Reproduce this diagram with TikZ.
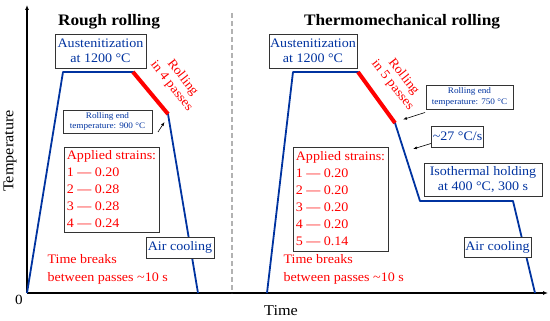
\documentclass[tikz,border=0pt]{standalone}
\usepackage{fontspec}
\setmainfont[FakeStretch=1.08]{Liberation Serif}
\usetikzlibrary{arrows.meta}
\definecolor{pblue}{RGB}{0,51,160}
\definecolor{pred}{RGB}{255,0,0}
\begin{document}
\begin{tikzpicture}[x=1pt,y=-1pt,
  box/.style={draw=black!80, line width=0.8pt, fill=white, inner sep=1pt, align=center, text=pblue, font=\fontsize{13}{15}\selectfont},
  smallbox/.style={box, font=\fontsize{8.5}{10.5}\selectfont},
  strainbox/.style={draw=black!80, line width=0.8pt, fill=white, inner sep=1pt, align=left, text=pred, font=\fontsize{13}{17}\selectfont},
  redtxt/.style={text=pred, align=left, font=\fontsize{13}{18}\selectfont},
  title/.style={font=\fontsize{16}{17}\selectfont\bfseries},
  profile/.style={draw=pblue, line width=1.8pt, line join=round},
  rolled/.style={draw=pred, line width=4pt},
  axis/.style={draw=black, line width=1.1pt, -{Latex[length=5pt,width=4pt]}},
  pointer/.style={draw=black, line width=0.6pt, -{Latex[length=4pt,width=3pt]}},
  rolltxt/.style={text=pred, font=\fontsize{13}{14}\selectfont, rotate=-52, align=center, inner sep=0pt}
]
\useasboundingbox (0,0) rectangle (550,321);
% axes
\coordinate (o) at (27,293);
\coordinate (ytop) at (27,5);
\coordinate (xend) at (548,293);
\draw[axis] (o) -- (ytop);
\draw[axis] (o) -- (xend);
\node (zero) at (19,300) {\fontsize{14}{15}\selectfont 0};
\node[rotate=90] (templbl) at (10,151) {\fontsize{15}{16}\selectfont Temperature};
\node (timelbl) at (281,311) {\fontsize{15}{16}\selectfont Time};
% divider
\coordinate (d1) at (232,13);
\coordinate (d2) at (232,293);
\draw[gray!60, line width=1.3pt, dash pattern=on 5pt off 3pt] (d1) -- (d2);
% titles
\node[title] (t1) at (109,22) {Rough rolling};
\node[title] (t2) at (402,22) {Thermomechanical rolling};
% left profile
\coordinate (a0) at (27,293);
\coordinate (a1) at (63,72);
\coordinate (a2) at (133,72);
\coordinate (a3) at (168,114);
\coordinate (a4) at (198,293);
\draw[profile] (a0) -- (a1) -- (a2) -- (a3) -- (a4);
\draw[rolled] (a2) -- (a3);
% right profile
\coordinate (b0) at (267,293);
\coordinate (b1) at (293,72);
\coordinate (b2) at (358,72);
\coordinate (b3) at (395,123);
\coordinate (b4) at (420,201);
\coordinate (b5) at (513,201);
\coordinate (b6) at (535,293);
\draw[profile] (b0) -- (b1) -- (b2) -- (b3) -- (b4) -- (b5) -- (b6);
\draw[rolled] (b2) -- (b3);
% left annotations
\node[box, minimum width=91pt, minimum height=34pt] (aus1) at (100.5,51) {Austenitization\\at 1200 °C};
\node[rolltxt] (r1) at (177,82) {Rolling\\in 4 passes};
\node[smallbox, minimum width=89pt, minimum height=23pt] (end1) at (107.5,121.5) {Rolling end\\temperature: 900 °C};
\coordinate (end1tip) at (164.5,122);
\coordinate (end1start) at (158,132);
\draw[pointer] (end1start) -- (end1tip);
\node[strainbox, minimum width=95pt, minimum height=85pt] (str1) at (111.5,189.5) {Applied strains:\\1 — 0.20\\2 — 0.28\\3 — 0.28\\4 — 0.24};
\node[box, minimum width=68pt, minimum height=21pt] (air1) at (180,247.5) {Air cooling};
\node[redtxt, anchor=west] (tb1) at (44,269) {Time breaks\\between passes \textasciitilde 10 s};
% right annotations
\node[box, minimum width=88pt, minimum height=34pt] (aus2) at (313,51) {Austenitization\\at 1200 °C};
\node[rolltxt] (r2) at (398,81) {Rolling\\in 5 passes};
\node[smallbox, minimum width=87pt, minimum height=24pt] (end2) at (469.5,97) {Rolling end\\temperature: 750 °C};
\coordinate (end2tip) at (403,119.5);
\coordinate (end2start) at (425,112.5);
\draw[pointer] (end2start) -- (end2tip);
\node[box, minimum width=51pt, minimum height=21pt] (rate) at (457.5,136.5) {\textasciitilde 27 °C/s};
\coordinate (ratetip) at (413,149);
\coordinate (ratestart) at (431,143.5);
\draw[pointer] (ratestart) -- (ratetip);
\node[strainbox, minimum width=95pt, minimum height=104pt] (str2) at (340.5,199) {Applied strains:\\1 — 0.20\\2 — 0.20\\3 — 0.20\\4 — 0.20\\5 — 0.14};
\node[box, minimum width=118pt, minimum height=33pt] (iso) at (483,179.5) {Isothermal holding\\at 400 °C, 300 s};
\node[box, minimum width=67pt, minimum height=20pt] (air2) at (497.5,247) {Air cooling};
\node[redtxt, anchor=west] (tb2) at (280,269) {Time breaks\\between passes \textasciitilde 10 s};
\end{tikzpicture}
\end{document}
